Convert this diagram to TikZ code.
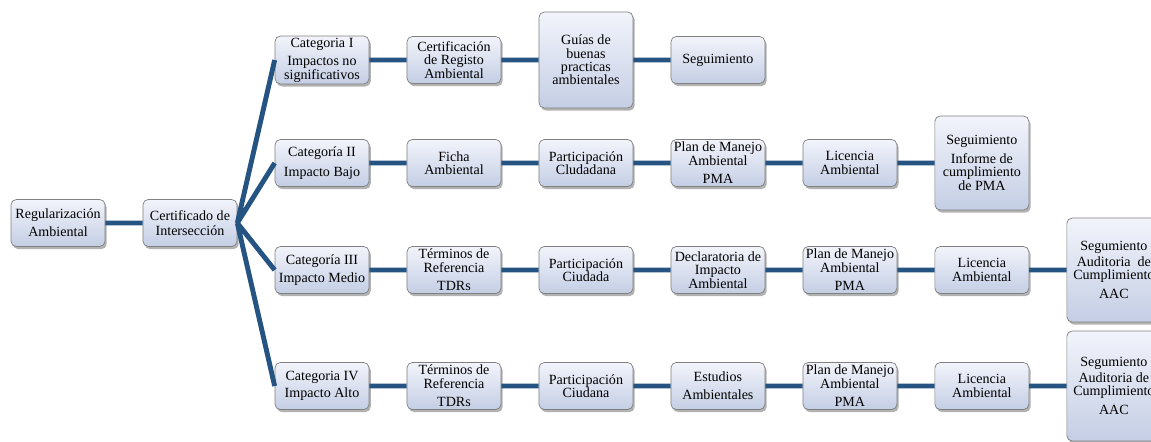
\documentclass[tikz,border=0pt]{standalone}
\usepackage{fontspec}
\setmainfont{Liberation Serif}
\usetikzlibrary{shadows}
\definecolor{linkblue}{RGB}{38,84,130}
\definecolor{boxline}{RGB}{128,128,128}
\definecolor{boxtop}{RGB}{242,244,251}
\definecolor{boxbot}{RGB}{196,206,228}

\begin{document}
\begin{tikzpicture}[x=0.02cm,y=-0.02cm,node distance=2.64cm,
    box/.style={draw=boxline,rounded corners=3pt,top color=boxtop,bottom color=boxbot,
      minimum width=1.88cm,minimum height=0.94cm,inner sep=1pt,align=center,
      font=\fontsize{8pt}{7.6pt}\selectfont,
      drop shadow={shadow xshift=1pt,shadow yshift=-1.5pt,opacity=0.3,fill=black}},
    link/.style={draw=linkblue,line width=2.8pt}]
    \useasboundingbox[fill=white] (0,0) rectangle (1151,441);
    \clip (0,0) rectangle (1151,441);
    \node[box] (reg)  at (58,223)          {Regularización\\[2.5pt]Ambiental};
    \node[box] (cert) [right of=reg]       {Certificado de\\[0.5pt]Intersección};
    \node[box] (cat1) at (322,60)          {Categoria I\\[3pt]Impactos no\\significativos};
    \node[box] (cat2) at (322,163)         {Categoría II\\[3.5pt]Impacto Bajo};
    \node[box] (cat3) at (322,270)         {Categoría III\\[2.5pt]Impacto Medio};
    \node[box] (cat4) at (322,386)         {Categoria IV\\[2pt]Impacto Alto};

    \node[box] (cra1) [right of=cat1]      {Certificación\\de Registo\\Ambiental};
    \node[box,minimum height=1.92cm] (gbp1) [right of=cra1] {Guías de\\buenas\\practicas\\ambientales};
    \node[box] (seg1) [right of=gbp1]      {Seguimiento};

    \node[box] (fic2) [right of=cat2]      {Ficha\\Ambiental};
    \node[box] (par2) [right of=fic2]      {Participación\\Cludadana};
    \node[box] (pma2) [right of=par2]      {Plan de Manejo\\Ambiental\\[3pt]PMA};
    \node[box] (lic2) [right of=pma2]      {Licencia\\Ambiental};
    \node[box,minimum height=1.88cm] (seg2) [right of=lic2] {Seguimiento\\[3pt]Informe de\\cumplimiento\\de PMA};

    \node[box] (tdr3) [right of=cat3]      {Términos de\\Referencia\\[3pt]TDRs};
    \node[box] (par3) [right of=tdr3]      {Participación\\Ciudada};
    \node[box] (dia3) [right of=par3]      {Declaratoria de\\Impacto\\Ambiental};
    \node[box] (pma3) [right of=dia3]      {Plan de Manejo\\Ambiental\\[3pt]PMA};
    \node[box] (lic3) [right of=pma3]      {Licencia\\Ambiental};
    \node[box,minimum height=2.08cm] (aac3) [right of=lic3] {Segumiento\\[1.5pt]Auditoria\ \ de\\Cumplimiento\\[3pt]AAC};

    \node[box] (tdr4) [right of=cat4]      {Términos de\\Referencia\\[3pt]TDRs};
    \node[box] (par4) [right of=tdr4]      {Participación\\Ciudana};
    \node[box] (est4) [right of=par4]      {Estudios\\[2.5pt]Ambientales};
    \node[box] (pma4) [right of=est4]      {Plan de Manejo\\Ambiental\\[3pt]PMA};
    \node[box] (lic4) [right of=pma4]      {Licencia\\Ambiental};
    \node[box,minimum height=2.2cm] (aac4) [right of=lic4] {Segumiento\\[1.5pt]Auditoria de\\Cumplimiento\\[3pt]AAC};

    \draw[link] (reg) -- (cert)
      (cert.east) -- (cat1.west) (cert.east) -- (cat2.west)
      (cert.east) -- (cat3.west) (cert.east) -- (cat4.west)
      (cat1) -- (cra1) (cra1) -- (gbp1) (gbp1) -- (seg1)
      (cat2) -- (fic2) (fic2) -- (par2) (par2) -- (pma2) (pma2) -- (lic2) (lic2) -- (seg2)
      (cat3) -- (tdr3) (tdr3) -- (par3) (par3) -- (dia3) (dia3) -- (pma3) (pma3) -- (lic3) (lic3) -- (aac3)
      (cat4) -- (tdr4) (tdr4) -- (par4) (par4) -- (est4) (est4) -- (pma4) (pma4) -- (lic4) (lic4) -- (aac4);
\end{tikzpicture}
\end{document}
